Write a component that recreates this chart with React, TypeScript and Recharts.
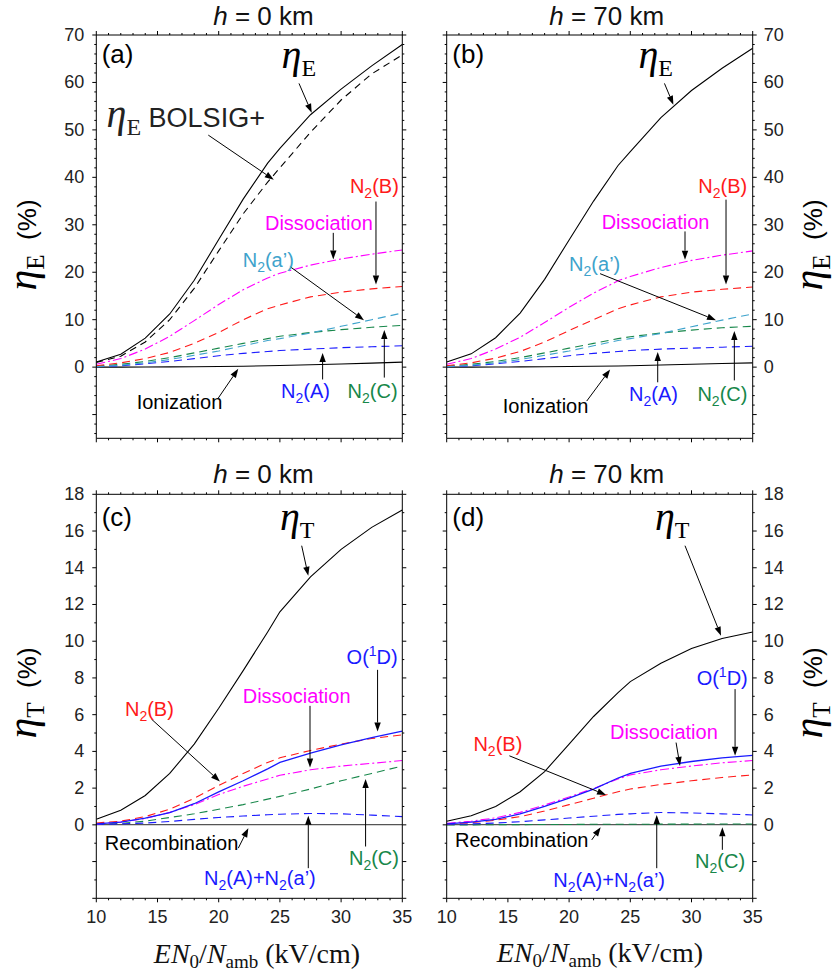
import React from "react";
import { LineChart, Line, XAxis, YAxis, ReferenceLine, ReferenceDot } from "recharts";

// reduced field E N0/Namb (kV/cm)
const fieldKV = [10, 12, 14, 16, 18, 20, 22, 24, 25, 27.5, 30, 32.5, 35];

// (a) energy efficiency, h = 0 km (%)
const etaE0 = [1.1, 2.7, 6.1, 11.2, 18.3, 26.9, 35.4, 43.0, 46.1, 53.2, 58.6, 63.5, 68.0];
const bolsig0 = [1.0, 2.3, 5.3, 10.0, 16.6, 24.5, 32.3, 39.0, 42.0, 49.5, 56.3, 61.8, 65.8];
const dissE0 = [0.6, 1.8, 3.8, 6.5, 9.8, 13.2, 16.3, 18.8, 19.8, 21.5, 22.8, 23.8, 24.7];
const n2bE0 = [0.3, 0.9, 1.8, 3.1, 5.0, 7.3, 10.0, 12.3, 13.1, 14.8, 15.8, 16.5, 17.0];
const n2apE0 = [0.1, 0.4, 0.9, 1.6, 2.5, 3.4, 4.5, 5.6, 6.0, 7.2, 8.6, 10.0, 11.4];
const n2cE0 = [0.2, 0.6, 1.2, 2.0, 3.0, 4.0, 5.0, 6.0, 6.5, 7.3, 7.9, 8.4, 8.8];
const n2aE0 = [0.1, 0.3, 0.7, 1.2, 1.8, 2.4, 2.9, 3.3, 3.5, 3.8, 4.1, 4.3, 4.5];
const ionE0 = [0, 0, 0.02, 0.05, 0.08, 0.12, 0.18, 0.28, 0.33, 0.5, 0.65, 0.85, 1.05];

// (b) energy efficiency, h = 70 km (%)
const etaE70 = [1.1, 2.8, 6.2, 11.4, 18.5, 26.8, 35.0, 42.5, 45.4, 52.6, 58.3, 63.0, 67.2];
const dissE70 = [0.6, 1.8, 3.8, 6.3, 9.4, 12.6, 15.6, 18.2, 19.1, 21.0, 22.5, 23.6, 24.5];
const n2bE70 = [0.3, 0.9, 1.9, 3.3, 5.3, 7.7, 10.0, 12.3, 13.1, 14.8, 15.8, 16.4, 16.9];
const n2apE70 = [0.1, 0.4, 0.9, 1.6, 2.5, 3.4, 4.5, 5.6, 6.0, 7.1, 8.5, 9.9, 11.2];
const n2cE70 = [0.2, 0.6, 1.2, 2.0, 3.0, 4.0, 5.0, 6.0, 6.4, 7.2, 7.8, 8.3, 8.6];
const n2aE70 = [0.1, 0.3, 0.7, 1.2, 1.8, 2.4, 2.9, 3.3, 3.5, 3.8, 4.0, 4.2, 4.4];
const ionE70 = [0, 0, 0.02, 0.05, 0.08, 0.12, 0.17, 0.25, 0.3, 0.45, 0.6, 0.75, 0.9];

// (c) total efficiency, h = 0 km (%)
const etaT0 = [0.3, 0.8, 1.6, 2.8, 4.4, 6.35, 8.4, 10.5, 11.6, 13.5, 15.0, 16.2, 17.15];
const o1dT0 = [0.05, 0.15, 0.36, 0.67, 1.15, 1.8, 2.4, 3.05, 3.4, 3.9, 4.35, 4.75, 5.1];
const n2bT0 = [0.1, 0.2, 0.45, 0.85, 1.45, 2.15, 2.8, 3.4, 3.65, 4.05, 4.4, 4.7, 4.9];
const dissT0 = [0.05, 0.15, 0.35, 0.68, 1.1, 1.65, 2.1, 2.5, 2.7, 3.0, 3.2, 3.35, 3.5];
const n2cT0 = [0.03, 0.08, 0.2, 0.4, 0.6, 0.85, 1.1, 1.4, 1.55, 1.95, 2.4, 2.8, 3.2];
const n2aapT0 = [0.02, 0.05, 0.1, 0.18, 0.3, 0.4, 0.48, 0.55, 0.58, 0.62, 0.6, 0.53, 0.45];
const recombT0 = [0.01, 0.01, 0.01, 0.01, 0.01, 0.01, 0.01, 0.01, 0.01, 0.01, 0.01, 0.01, 0.01];

// (d) total efficiency, h = 70 km (%)
const etaT70 = [0.2, 0.5, 1.0, 1.8, 2.9, 4.4, 5.9, 7.2, 7.8, 8.8, 9.6, 10.15, 10.5];
const o1dT70 = [0.05, 0.15, 0.3, 0.6, 1.0, 1.45, 1.95, 2.55, 2.8, 3.2, 3.45, 3.65, 3.78];
const dissT70 = [0.08, 0.2, 0.38, 0.68, 1.08, 1.52, 1.98, 2.5, 2.72, 3.0, 3.2, 3.38, 3.5];
const n2bT70 = [0.05, 0.12, 0.25, 0.45, 0.75, 1.1, 1.45, 1.8, 1.95, 2.2, 2.4, 2.58, 2.72];
const n2aapT70 = [0.02, 0.05, 0.1, 0.17, 0.27, 0.37, 0.47, 0.57, 0.6, 0.67, 0.65, 0.6, 0.54];
const n2cT70 = [0, 0, 0.01, 0.01, 0.02, 0.02, 0.03, 0.03, 0.03, 0.04, 0.04, 0.05, 0.05];
const recombT70 = [0.01, 0.01, 0.01, 0.01, 0.01, 0.01, 0.01, 0.01, 0.01, 0.01, 0.01, 0.01, 0.01];

// axis ticks
const xMajor = [10, 15, 20, 25, 30, 35];
const xTicks = [10, 11, 12, 13, 14, 15, 16, 17, 18, 19, 20, 21, 22, 23, 24, 25, 26, 27, 28, 29, 30, 31, 32, 33, 34, 35];
const yMajorE = [-10, 0, 10, 20, 30, 40, 50, 60, 70];
const yLabelE = [0, 10, 20, 30, 40, 50, 60, 70];
const yTicksE = [-14, -12, -10, -8, -6, -4, -2, 0, 2, 4, 6, 8, 10, 12, 14, 16, 18, 20, 22, 24, 26, 28, 30, 32, 34, 36, 38, 40, 42, 44, 46, 48, 50, 52, 54, 56, 58, 60, 62, 64, 66, 68, 70];
const yMajorT = [-4, -2, 0, 2, 4, 6, 8, 10, 12, 14, 16, 18];
const yLabelT = [0, 2, 4, 6, 8, 10, 12, 14, 16, 18];
const yTicksT = [-4, -3, -2, -1, 0, 1, 2, 3, 4, 5, 6, 7, 8, 9, 10, 11, 12, 13, 14, 15, 16, 17, 18];

const W = 837;
const H = 973;
const SANS = "'Liberation Sans', Arial, Helvetica, sans-serif";
const SERIF = "'Liberation Serif', 'Times New Roman', serif";

const RED = "#ff1a1a";
const MAGENTA = "#ff00ff";
const CYAN = "#3ea3cc";
const GREEN = "#17874a";
const BLUE = "#1a1aff";

type Part = { t: string; size?: number; shift?: number; italic?: boolean; family?: string };

function rich(parts: Part[], base: number, family: string) {
  let cur = 0;
  return parts.map((p, i) => {
    const shift = p.shift ?? 0;
    const dy = shift - cur;
    cur = shift;
    return (
      <tspan
        key={i}
        dy={dy !== 0 ? dy : undefined}
        fontSize={p.size ?? base}
        fontStyle={p.italic ? "italic" : "normal"}
        fontFamily={p.family ?? family}
      >
        {p.t}
      </tspan>
    );
  });
}

const N2 = (s: string): Part[] => [{ t: "N" }, { t: "2", size: 14, shift: 5 }, { t: `(${s})` }];
const eta = (sub: string, size = 40): Part[] => [
  { t: "η", size, italic: true, family: SERIF },
  { t: sub, size: size * 0.6, shift: size * 0.2, family: SERIF },
];
const plain = (t: string): Part[] => [{ t }];
const o1d: Part[] = [{ t: "O(" }, { t: "1", size: 14, shift: -8 }, { t: "D)" }];
const n2aap: Part[] = [
  { t: "N" }, { t: "2", size: 14, shift: 5 }, { t: "(A)+N" }, { t: "2", size: 14, shift: 5 }, { t: "(a’)" },
];

type Note = { x: number; y: number; parts: Part[]; color: string; size?: number };
type Arrow = [number, number, number, number];
type Series = { key: string; color: string; dash?: string; width?: number };
type Box = { x: number; y: number; w: number; h: number };

const arrowShape = (props: any) => {
  const { x1, y1, x2, y2 } = props;
  const ang = Math.atan2(y2 - y1, x2 - x1);
  const L = 9;
  const hw = 3.2;
  const bx = x2 - L * Math.cos(ang);
  const by = y2 - L * Math.sin(ang);
  const px = -Math.sin(ang) * hw;
  const py = Math.cos(ang) * hw;
  return (
    <g>
      <line x1={x1} y1={y1} x2={bx} y2={by} stroke="#000" strokeWidth={1} />
      <polygon points={`${x2},${y2} ${bx + px},${by + py} ${bx - px},${by - py}`} fill="#000" />
    </g>
  );
};

type Side = "left" | "right" | "top" | "bottom";

function tickRenderer(side: Side, majors: number[], labels: number[]) {
  return (props: any) => {
    const { x, y, payload } = props;
    const v = payload.value;
    const major = majors.includes(v);
    const len = major ? 4 : 2;
    const lab = labels.includes(v);
    let line;
    let text = null;
    if (side === "left") {
      line = <line x1={x} y1={y} x2={x - len} y2={y} stroke="#000" />;
      if (lab)
        text = (
          <text x={x - 12} y={y} textAnchor="end" dominantBaseline="central" fontSize={18} fontFamily={SANS} fill="#222">
            {v}
          </text>
        );
    } else if (side === "right") {
      line = <line x1={x} y1={y} x2={x + len} y2={y} stroke="#000" />;
      if (lab)
        text = (
          <text x={x + 11} y={y} textAnchor="start" dominantBaseline="central" fontSize={18} fontFamily={SANS} fill="#222">
            {v}
          </text>
        );
    } else if (side === "bottom") {
      line = <line x1={x} y1={y} x2={x} y2={y + len} stroke="#000" />;
      if (lab)
        text = (
          <text x={x} y={y + 25} textAnchor="middle" fontSize={18} fontFamily={SANS} fill="#222">
            {v}
          </text>
        );
    } else {
      line = <line x1={x} y1={y} x2={x} y2={y - len} stroke="#000" />;
    }
    return (
      <g>
        {line}
        {text}
      </g>
    );
  };
}

function Panel(props: {
  box: Box;
  rows: any[];
  series: Series[];
  yDomain: [number, number];
  yTicks: number[];
  yMajor: number[];
  yLabel: number[];
  labelRight: boolean;
  xLabels: boolean;
  notes: Note[];
  arrows: Arrow[];
}) {
  const { box, rows, series, yDomain, yTicks, yMajor, yLabel, labelRight, xLabels, notes, arrows } = props;
  const AX = 20;
  const margin = {
    top: box.y - AX,
    left: box.x - AX,
    right: W - box.x - box.w - AX,
    bottom: H - box.y - box.h - AX,
  };
  return (
    <div style={{ position: "absolute", left: 0, top: 0 }}>
      <LineChart width={W} height={H} data={rows} margin={margin}>
        <XAxis
          dataKey="x"
          type="number"
          domain={[10, 35]}
          ticks={xTicks}
          interval={0}
          height={AX}
          tickSize={0}
          tickMargin={0}
          tickLine={false}
          axisLine={{ stroke: "#000" }}
          tick={tickRenderer("bottom", xMajor, xLabels ? xMajor : [])}
          allowDataOverflow
        />
        <XAxis
          xAxisId="top"
          orientation="top"
          dataKey="x"
          type="number"
          domain={[10, 35]}
          ticks={xTicks}
          interval={0}
          height={AX}
          tickSize={0}
          tickMargin={0}
          tickLine={false}
          axisLine={{ stroke: "#000" }}
          tick={tickRenderer("top", xMajor, [])}
          allowDataOverflow
        />
        <YAxis
          type="number"
          domain={yDomain}
          ticks={yTicks}
          interval={0}
          width={AX}
          tickSize={0}
          tickMargin={0}
          tickLine={false}
          axisLine={{ stroke: "#000" }}
          tick={tickRenderer("left", yMajor, labelRight ? [] : yLabel)}
          allowDataOverflow
        />
        <YAxis
          yAxisId="right"
          orientation="right"
          type="number"
          domain={yDomain}
          ticks={yTicks}
          interval={0}
          width={AX}
          tickSize={0}
          tickMargin={0}
          tickLine={false}
          axisLine={{ stroke: "#000" }}
          tick={tickRenderer("right", yMajor, labelRight ? yLabel : [])}
          allowDataOverflow
        />
        {series.map((s) => (
          <Line
            key={s.key}
            dataKey={s.key}
            type="linear"
            stroke={s.color}
            strokeWidth={s.width ?? 1.1}
            strokeDasharray={s.dash}
            dot={false}
            activeDot={false}
            isAnimationActive={false}
          />
        ))}
        {arrows.map((a, i) => (
          <ReferenceLine
            key={`ar${i}`}
            segment={[
              { x: a[0], y: a[1] },
              { x: a[2], y: a[3] },
            ]}
            shape={arrowShape}
          />
        ))}
        {notes.map((n, i) => (
          <ReferenceDot
            key={`nt${i}`}
            x={n.x}
            y={n.y}
            r={0}
            shape={(p: any) => (
              <text x={p.cx} y={p.cy} fill={n.color} fontFamily={SANS} fontSize={n.size ?? 20}>
                {rich(n.parts, n.size ?? 20, SANS)}
              </text>
            )}
          />
        ))}
      </LineChart>
    </div>
  );
}

const rowsA = fieldKV.map((x, i) => ({
  x,
  etaE: etaE0[i],
  bolsig: bolsig0[i],
  diss: dissE0[i],
  n2b: n2bE0[i],
  n2ap: n2apE0[i],
  n2c: n2cE0[i],
  n2a: n2aE0[i],
  ion: ionE0[i],
}));
const rowsB = fieldKV.map((x, i) => ({
  x,
  etaE: etaE70[i],
  diss: dissE70[i],
  n2b: n2bE70[i],
  n2ap: n2apE70[i],
  n2c: n2cE70[i],
  n2a: n2aE70[i],
  ion: ionE70[i],
}));
const rowsC = fieldKV.map((x, i) => ({
  x,
  etaT: etaT0[i],
  o1d: o1dT0[i],
  n2b: n2bT0[i],
  diss: dissT0[i],
  n2c: n2cT0[i],
  n2aap: n2aapT0[i],
  recomb: recombT0[i],
}));
const rowsD = fieldKV.map((x, i) => ({
  x,
  etaT: etaT70[i],
  o1d: o1dT70[i],
  n2b: n2bT70[i],
  diss: dissT70[i],
  n2c: n2cT70[i],
  n2aap: n2aapT70[i],
  recomb: recombT70[i],
}));

const DASH = "8 5";
const DASHDOT = "9 3 2 3";

const seriesE: Series[] = [
  { key: "ion", color: "#000" },
  { key: "n2a", color: BLUE, dash: DASH },
  { key: "n2c", color: GREEN, dash: DASH },
  { key: "n2ap", color: CYAN, dash: DASH },
  { key: "n2b", color: RED, dash: DASH },
  { key: "diss", color: MAGENTA, dash: DASHDOT },
  { key: "bolsig", color: "#000", dash: "7 5" },
  { key: "etaE", color: "#000" },
];
const seriesT: Series[] = [
  { key: "recomb", color: "#555" },
  { key: "n2c", color: GREEN, dash: DASH },
  { key: "n2aap", color: BLUE, dash: DASH },
  { key: "diss", color: MAGENTA, dash: DASHDOT },
  { key: "n2b", color: RED, dash: DASH },
  { key: "o1d", color: BLUE, width: 1.3 },
  { key: "etaT", color: "#000" },
];

const notesA: Note[] = [
  { x: 10.44, y: 64.0, parts: plain("(a)"), color: "#000", size: 26 },
  { x: 25.14, y: 63.0, parts: eta("E"), color: "#000" },
  { x: 10.84, y: 50.7, parts: [...eta("E"), { t: "\u00a0BOLSIG+", size: 27, family: SANS }], color: "#222" },
  { x: 30.72, y: 36.8, parts: N2("B"), color: RED },
  { x: 23.78, y: 29.0, parts: plain("Dissociation"), color: MAGENTA },
  { x: 21.96, y: 21.2, parts: N2("a’"), color: CYAN },
  { x: 13.3, y: -8.9, parts: plain("Ionization"), color: "#000" },
  { x: 25.09, y: -6.45, parts: N2("A"), color: BLUE },
  { x: 30.53, y: -6.45, parts: N2("C"), color: GREEN },
];
const arrowsA: Arrow[] = [
  [26.56, 59.8, 27.6, 53.6],
  [19.15, 48.9, 24.5, 39.5],
  [32.85, 34.9, 32.85, 17.4],
  [29.36, 28.3, 29.36, 22.7],
  [25.82, 21.2, 31.87, 9.9],
  [19.97, -6.5, 21.6, -0.35],
  [28.49, -2.6, 28.49, 3.0],
  [33.53, -2.2, 33.53, 7.8],
];

const notesB: Note[] = [
  { x: 10.46, y: 64.0, parts: plain("(b)"), color: "#000", size: 26 },
  { x: 25.66, y: 63.0, parts: eta("E"), color: "#000" },
  { x: 30.56, y: 36.7, parts: N2("B"), color: RED },
  { x: 22.66, y: 29.1, parts: plain("Dissociation"), color: MAGENTA },
  { x: 20.0, y: 20.2, parts: N2("a’"), color: CYAN },
  { x: 14.58, y: -9.6, parts: plain("Ionization"), color: "#000" },
  { x: 24.9, y: -7.15, parts: N2("A"), color: BLUE },
  { x: 30.48, y: -7.15, parts: N2("C"), color: GREEN },
];
const arrowsB: Arrow[] = [
  [27.79, 59.8, 28.52, 55.3],
  [32.82, 35.3, 32.82, 17.4],
  [29.47, 28.6, 29.47, 22.65],
  [22.53, 19.7, 32.0, 9.9],
  [21.44, -7.15, 23.35, -0.5],
  [27.24, -3.2, 27.24, 3.2],
  [33.5, -2.8, 33.5, 7.6],
];

const notesC: Note[] = [
  { x: 10.44, y: 16.3, parts: plain("(c)"), color: "#000", size: 26 },
  { x: 25.0, y: 16.06, parts: eta("T"), color: "#000" },
  { x: 30.45, y: 8.75, parts: o1d, color: BLUE },
  { x: 21.96, y: 6.62, parts: plain("Dissociation"), color: MAGENTA },
  { x: 12.34, y: 5.93, parts: N2("B"), color: RED },
  { x: 10.7, y: -1.36, parts: plain("Recombination"), color: "#000" },
  { x: 18.8, y: -3.27, parts: n2aap, color: BLUE },
  { x: 30.64, y: -2.18, parts: N2("C"), color: GREEN },
];
const arrowsC: Arrow[] = [
  [26.78, 15.2, 27.32, 13.56],
  [32.98, 8.44, 32.98, 5.08],
  [27.46, 6.48, 27.46, 3.12],
  [14.52, 5.75, 20.1, 2.36],
  [21.6, -1.27, 22.42, -0.18],
  [27.32, -2.36, 27.32, 0.49],
  [32.0, -1.18, 32.0, 2.49],
];

const notesD: Note[] = [
  { x: 10.46, y: 16.3, parts: plain("(d)"), color: "#000", size: 26 },
  { x: 27.02, y: 16.06, parts: eta("T"), color: "#000" },
  { x: 30.42, y: 7.62, parts: o1d, color: BLUE },
  { x: 23.34, y: 4.66, parts: plain("Dissociation"), color: MAGENTA },
  { x: 12.18, y: 4.0, parts: N2("B"), color: RED },
  { x: 10.68, y: -1.22, parts: plain("Recombination"), color: "#000" },
  { x: 18.71, y: -3.36, parts: n2aap, color: BLUE },
  { x: 30.29, y: -2.36, parts: N2("C"), color: GREEN },
];
const arrowsD: Arrow[] = [
  [29.47, 15.2, 32.41, 10.3],
  [33.56, 7.39, 33.56, 3.76],
  [28.74, 4.48, 29.06, 3.21],
  [15.12, 3.76, 23.02, 1.63],
  [21.85, -0.82, 22.58, -0.13],
  [27.16, -2.36, 27.16, 0.54],
  [32.52, -1.36, 32.52, -0.13],
];

const boxA: Box = { x: 96.3, y: 35, w: 306, h: 403.3 };
const boxB: Box = { x: 446.7, y: 35, w: 306, h: 403.3 };
const boxC: Box = { x: 96.3, y: 494.3, w: 306, h: 404 };
const boxD: Box = { x: 446.7, y: 494.3, w: 306, h: 404 };

function Title({ x, y, km }: { x: number; y: number; km: string }) {
  return (
    <text x={x} y={y} textAnchor="middle" fontFamily={SANS} fontSize={26} fill="#111">
      <tspan fontStyle="italic">h</tspan>
      <tspan>{` = ${km} km`}</tspan>
    </text>
  );
}

function YLabel({ x, y, sub }: { x: number; y: number; sub: string }) {
  return (
    <text transform={`translate(${x},${y}) rotate(-90)`} textAnchor="middle" fill="#000" fontSize={42}>
      {rich([...eta(sub, 42), { t: "\u00a0\u00a0(%)", size: 26, shift: 0, family: SANS }], 42, SERIF)}
    </text>
  );
}

function XLabel({ x, y }: { x: number; y: number }) {
  return (
    <text x={x} y={y} textAnchor="middle" fill="#111" fontSize={28} fontFamily={SERIF}>
      {rich(
        [
          { t: "EN", italic: true },
          { t: "0", size: 19, shift: 5 },
          { t: "/" },
          { t: "N", italic: true },
          { t: "amb", size: 19, shift: 5 },
          { t: "\u00a0(kV/cm)" },
        ],
        28,
        SERIF
      )}
    </text>
  );
}

export default function App() {
  return (
    <div style={{ position: "absolute", left: 0, top: 0, width: W, height: H, background: "#fff" }}>
      <Panel
        box={boxA}
        rows={rowsA}
        series={seriesE}
        yDomain={[-15, 70]}
        yTicks={yTicksE}
        yMajor={yMajorE}
        yLabel={yLabelE}
        labelRight={false}
        xLabels={false}
        notes={notesA}
        arrows={arrowsA}
      />
      <Panel
        box={boxB}
        rows={rowsB}
        series={seriesE.filter((s) => s.key !== "bolsig")}
        yDomain={[-15, 70]}
        yTicks={yTicksE}
        yMajor={yMajorE}
        yLabel={yLabelE}
        labelRight={true}
        xLabels={false}
        notes={notesB}
        arrows={arrowsB}
      />
      <Panel
        box={boxC}
        rows={rowsC}
        series={seriesT}
        yDomain={[-4, 18]}
        yTicks={yTicksT}
        yMajor={yMajorT}
        yLabel={yLabelT}
        labelRight={false}
        xLabels={true}
        notes={notesC}
        arrows={arrowsC}
      />
      <Panel
        box={boxD}
        rows={rowsD}
        series={seriesT}
        yDomain={[-4, 18]}
        yTicks={yTicksT}
        yMajor={yMajorT}
        yLabel={yLabelT}
        labelRight={true}
        xLabels={true}
        notes={notesD}
        arrows={arrowsD}
      />
      <svg width={W} height={H} style={{ position: "absolute", left: 0, top: 0, pointerEvents: "none" }}>
        <Title x={263.5} y={25} km="0" />
        <Title x={606.7} y={25} km="70" />
        <Title x={263.5} y={483} km="0" />
        <Title x={606.7} y={483} km="70" />
        <YLabel x={36} y={245} sub="E" />
        <YLabel x={822} y={245} sub="E" />
        <YLabel x={36} y={693} sub="T" />
        <YLabel x={822} y={693} sub="T" />
        <XLabel x={257} y={963} />
        <XLabel x={600} y={962} />
      </svg>
    </div>
  );
}
